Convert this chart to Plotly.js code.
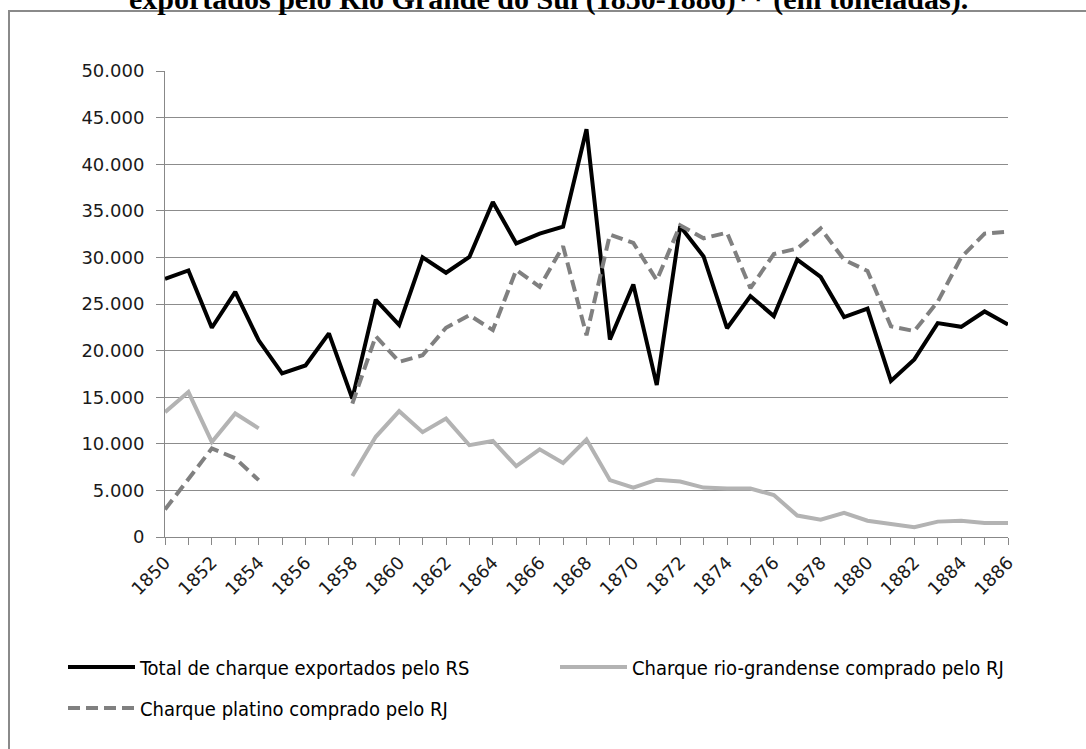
<!DOCTYPE html>
<html>
<head>
<meta charset="utf-8">
<script src="https://cdn.plot.ly/plotly-3.0.1.min.js"></script>
<style>html,body{margin:0;padding:0;background:#fff;}#chart{width:1086px;height:749px;}</style>
</head>
<body>
<div id="chart"></div>
<script>
const years = [1850,1851,1852,1853,1854,1855,1856,1857,1858,1859,1860,1861,1862,1863,1864,1865,1866,1867,1868,1869,1870,1871,1872,1873,1874,1875,1876,1877,1878,1879,1880,1881,1882,1883,1884,1885,1886];
const totalRS = [27700,28600,22450,26300,21100,17550,18400,21850,14850,25450,22750,30000,28350,30050,35950,31500,32550,33300,43750,21200,27100,16300,33350,30100,22400,25850,23700,29750,27900,23600,24500,16750,19050,22950,22550,24200,22800];
const rioGrandenseRJ = [13400,15550,10200,13250,11650,null,null,null,6550,10750,13500,11250,12700,9850,10300,7600,9400,7950,10450,6100,5300,6150,5950,5300,5200,5200,4500,2300,1850,2600,1750,1400,1050,1650,1750,1500,1500];
const platinoRJ = [2950,6300,9500,8450,6100,null,null,null,14300,21550,18800,19500,22450,23800,22200,28650,26850,31200,21650,32450,31550,27550,33450,32050,32650,26700,30350,30950,33100,29750,28550,22600,22100,25250,30000,32550,32750];
const seriesNames = ["Total de charque exportados pelo RS","Charque rio-grandense comprado pelo RJ","Charque platino comprado pelo RJ"];
const titleText = "exportados pelo Rio Grande do Sul (1850-1886)** (em toneladas).";

const tickFont = {family: "DejaVu Sans, sans-serif", size: 18, color: "#1a1a1a"};
const legFont = {family: "DejaVu Sans Condensed, DejaVu Sans, sans-serif", size: 20, color: "#000"};

const traces = [
  {x: years, y: totalRS, name: seriesNames[0], type: "scatter", mode: "lines",
   line: {color: "#000000", width: 4}, connectgaps: false, legend: "legend"},
  {x: years, y: rioGrandenseRJ, name: seriesNames[1], type: "scatter", mode: "lines",
   line: {color: "#b3b3b3", width: 4}, connectgaps: false, legend: "legend2"},
  {x: years, y: platinoRJ, name: seriesNames[2], type: "scatter", mode: "lines",
   line: {color: "#808080", width: 4, dash: "12px,6px"}, connectgaps: false, legend: "legend3"}
];

function leg(xpx, ypx) {
  return {
    orientation: "h", xref: "container", yref: "container",
    x: xpx / 1086, y: 1 - ypx / 749, xanchor: "left", yanchor: "middle",
    font: legFont, itemwidth: 67, bgcolor: "rgba(0,0,0,0)"
  };
}

const layout = {
  width: 1086, height: 749,
  margin: {l: 165, r: 78, t: 71, b: 212},
  paper_bgcolor: "#ffffff", plot_bgcolor: "#ffffff",
  separators: ",.",
  showlegend: true,
  xaxis: {
    range: [1850, 1886], tick0: 1850, dtick: 2, tickangle: -45,
    ticks: "outside", ticklen: 7, tickcolor: "#888", tickwidth: 1,
    minor: {dtick: 1, ticks: "outside", ticklen: 7, tickcolor: "#888", showgrid: false},
    showgrid: false, zeroline: false, showline: true, linecolor: "#888", linewidth: 1,
    tickfont: tickFont, fixedrange: true
  },
  yaxis: {
    range: [0, 50000], dtick: 5000, tickformat: ",d",
    ticks: "outside", ticklen: 8, tickcolor: "#888", tickwidth: 1,
    showgrid: true, gridcolor: "#8c8c8c", gridwidth: 1,
    zeroline: false, showline: true, linecolor: "#888", linewidth: 1,
    tickfont: tickFont, ticklabelstandoff: 8, fixedrange: true
  },
  legend: leg(63, 667),
  legend2: leg(555, 667),
  legend3: leg(63, 708),
  shapes: [
    {type: "rect", xref: "paper", yref: "paper",
     x0: (9 - 165) / 843, x1: 1.3, y0: -0.7, y1: (537 - 11) / 466,
     line: {color: "#8a8a8a", width: 2}, fillcolor: "rgba(0,0,0,0)", layer: "below"}
  ],
  annotations: [
    {text: titleText, xref: "paper", yref: "paper", x: (548 - 165) / 843, y: (537 + 1) / 466,
     xanchor: "center", yanchor: "middle", showarrow: false,
     font: {family: "Liberation Serif, Times New Roman, serif", size: 30, color: "#000", weight: "bold"}}
  ]
};

Plotly.newPlot("chart", traces, layout, {displayModeBar: false, staticPlot: true});
</script>
</body>
</html>
